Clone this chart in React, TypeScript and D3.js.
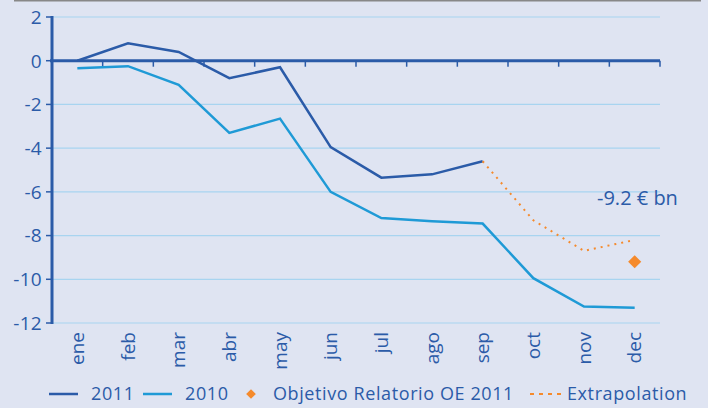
import * as d3 from "d3";

const months = ["ene", "feb", "mar", "abr", "may", "jun", "jul", "ago", "sep", "oct", "nov", "dec"];
const s2011 = [0, 0.8, 0.4, -0.8, -0.3, -3.95, -5.35, -5.2, -4.6];
const s2010 = [-0.35, -0.25, -1.1, -3.3, -2.65, -6.0, -7.2, -7.35, -7.45, -9.95, -11.25, -11.3];
const extraMonths = ["sep", "oct", "nov", "dec"];
const extraValues = [-4.6, -7.3, -8.7, -8.2];
const targetMonth = "dec";
const targetValue = -9.2;
const yTicks = [2, 0, -2, -4, -6, -8, -10, -12];

const W = 708;
const H = 408;
const BG = "#dfe4f2";
const DARK = "#2b5ba8";
const LIGHT = "#1f9ad6";
const ORANGE = "#f58a2c";
const GRID = "#a8d4f0";
const FONT = "'Open Sans', 'Noto Sans', sans-serif";

export default function App() {
  const left = 52;
  const right = 660;
  const top = 17;
  const bottom = 323;

  const x = d3.scaleBand<string>().domain(months).range([left, right]);
  const cx = (m: string) => (x(m) ?? 0) + x.bandwidth() / 2;
  const y = d3.scaleLinear().domain([2, -12]).range([top, bottom]);

  const line = d3
    .line<[string, number]>()
    .x((d) => cx(d[0]))
    .y((d) => y(d[1]));

  const p2011 = line(s2011.map((v, i) => [months[i], v]));
  const p2010 = line(s2010.map((v, i) => [months[i], v]));
  const pExtra = line(extraValues.map((v, i) => [extraMonths[i], v]));

  const diamond = d3.symbol().type(d3.symbolDiamond2).size(110)();
  const legendDiamond = d3.symbol().type(d3.symbolDiamond2).size(60)();

  const legendY = 394;

  return (
    <svg
      width={W}
      height={H}
      style={{ position: "absolute", left: 0, top: 0, background: BG, fontFamily: FONT }}
    >
      <rect x={0} y={0} width={W} height={H} fill={BG} />
      <line x1={14} x2={701} y1={0.5} y2={0.5} stroke="#888" strokeWidth={2} />

      {/* gridlines */}
      {yTicks
        .filter((t) => t !== 0)
        .map((t) => (
          <line key={t} x1={left} x2={right} y1={y(t)} y2={y(t)} stroke={GRID} strokeWidth={1.2} />
        ))}

      {/* y axis */}
      <line x1={left} x2={left} y1={top - 1} y2={bottom + 1} stroke={DARK} strokeWidth={3} />
      {yTicks.map((t) => (
        <g key={t}>
          <line x1={left - 6} x2={left} y1={y(t)} y2={y(t)} stroke={DARK} strokeWidth={1.5} />
          <text
            x={42}
            y={y(t)}
            dy="0.36em"
            textAnchor="end"
            fontSize={19}
            letterSpacing={0.3}
            fill={DARK}
          >
            {t}
          </text>
        </g>
      ))}

      {/* zero line with category ticks */}
      <line x1={left - 2} x2={right} y1={y(0)} y2={y(0)} stroke={DARK} strokeWidth={3} />
      {months.map((m) => (
        <line
          key={m}
          x1={(x(m) ?? 0) + x.bandwidth()}
          x2={(x(m) ?? 0) + x.bandwidth()}
          y1={y(0)}
          y2={y(0) + 6}
          stroke={DARK}
          strokeWidth={1.5}
        />
      ))}

      {/* x labels */}
      {months.map((m) => (
        <text
          key={m}
          transform={`translate(${cx(m)},${bottom + 9}) rotate(-90)`}
          textAnchor="end"
          dy="0.35em"
          fontSize={19}
          fill={DARK}
        >
          {m}
        </text>
      ))}

      {/* series */}
      <path d={p2010 ?? ""} fill="none" stroke={LIGHT} strokeWidth={2.5} />
      <path d={p2011 ?? ""} fill="none" stroke={DARK} strokeWidth={2.5} />
      <path d={pExtra ?? ""} fill="none" stroke={ORANGE} strokeWidth={2} strokeDasharray="2 5" />
      <path d={diamond ?? ""} transform={`translate(${cx(targetMonth)},${y(targetValue)})`} fill={ORANGE} />

      <text x={597} y={y(-6.6)} fontSize={20} fill={DARK}>
        -9.2 € bn
      </text>

      {/* legend */}
      <g fontSize={18} letterSpacing={0.6} fill={DARK}>
        <line x1={49} x2={78} y1={legendY} y2={legendY} stroke={DARK} strokeWidth={2.5} />
        <text x={91} y={legendY} dy="0.35em">2011</text>
        <line x1={143} x2={172} y1={legendY} y2={legendY} stroke={LIGHT} strokeWidth={2.5} />
        <text x={185} y={legendY} dy="0.35em">2010</text>
        <path d={legendDiamond ?? ""} transform={`translate(251,${legendY})`} fill={ORANGE} />
        <text x={273} y={legendY} dy="0.35em">Objetivo Relatorio OE 2011</text>
        <line
          x1={530}
          x2={565}
          y1={legendY}
          y2={legendY}
          stroke={ORANGE}
          strokeWidth={2}
          strokeDasharray="4 5"
        />
        <text x={567} y={legendY} dy="0.35em">Extrapolation</text>
      </g>
    </svg>
  );
}
